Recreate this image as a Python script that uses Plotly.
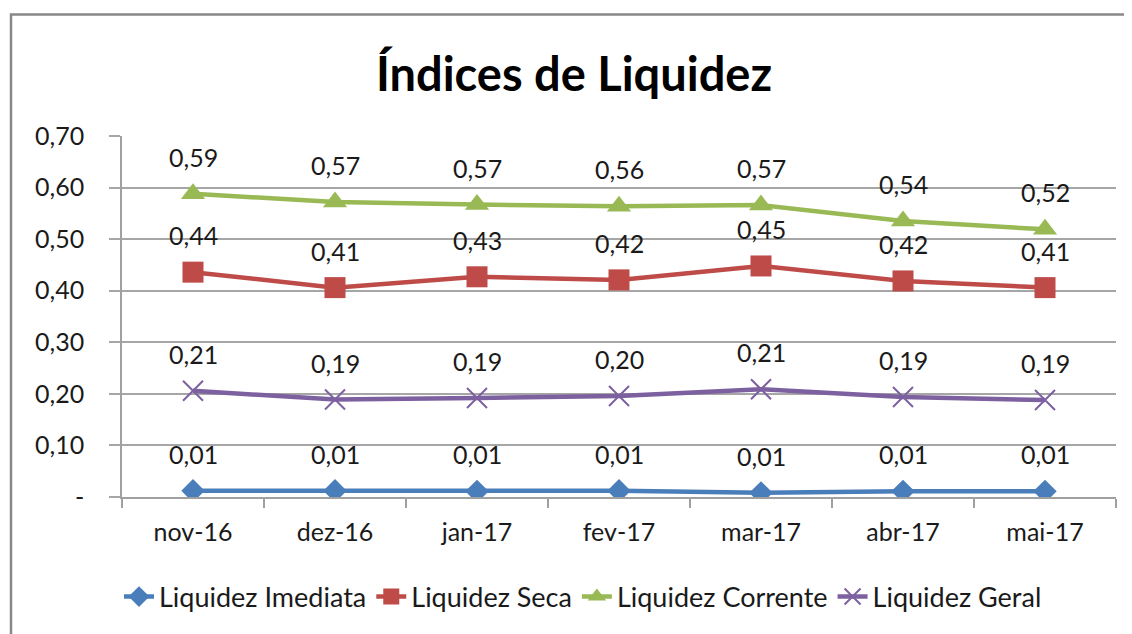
import plotly.graph_objects as go

categories = ["nov-16", "dez-16", "jan-17", "fev-17", "mar-17", "abr-17", "mai-17"]
imediata = [0.012, 0.012, 0.011, 0.012, 0.008, 0.011, 0.011]
seca = [0.436, 0.406, 0.427, 0.421, 0.448, 0.419, 0.406]
corrente = [0.588, 0.572, 0.567, 0.564, 0.566, 0.535, 0.519]
geral = [0.206, 0.189, 0.192, 0.196, 0.209, 0.194, 0.188]
y_ticks = [0, 0.1, 0.2, 0.3, 0.4, 0.5, 0.6, 0.7]
y_tick_labels = ["-", "0,10", "0,20", "0,30", "0,40", "0,50", "0,60", "0,70"]

series = [
    ("Liquidez Imediata", imediata, "#4A7EBB", dict(symbol="diamond", size=18)),
    ("Liquidez Seca", seca, "#BE4B48", dict(symbol="square", size=21)),
    ("Liquidez Corrente", corrente, "#98B954", dict(symbol="triangle-up", size=21)),
    ("Liquidez Geral", geral, "#7D60A0", dict(symbol="x-thin-open", size=20)),
]

FONT = "Lato, 'Open Sans', sans-serif"
TXT = "#1a1a1a"
fig = go.Figure()
annotations = []
for name, vals, color, marker in series:
    m = dict(marker)
    m["color"] = color
    if m["symbol"].startswith("x-thin"):
        m["line"] = dict(width=2, color=color)
    fig.add_trace(go.Scatter(
        x=categories, y=vals, name=name, mode="lines+markers",
        line=dict(color=color, width=4.5), marker=m,
    ))
    for c, v in zip(categories, vals):
        annotations.append(dict(
            x=c, y=v, xref="x", yref="y", text=f"{v:.2f}".replace(".", ","),
            showarrow=False, yshift=37, font=dict(size=25, color=TXT, family=FONT),
        ))

# page is rendered with an 8px body offset; compensate
OFF = 8
W, H = 1132, 634
l, r, t, b = 122 - OFF, W - (1116 - OFF), 136 - OFF, H - (497 - OFF)
pw, ph = W - l - r, H - t - b

def px_x(x):
    return (x - OFF - l) / pw

def px_y(y):
    return (H - b - (y - OFF)) / ph

fig.update_layout(
    width=W, height=H,
    margin=dict(l=l, r=r, t=t, b=b),
    paper_bgcolor="white", plot_bgcolor="white",
    font=dict(family=FONT, size=25, color=TXT),
    title=dict(text="<b>Índices de Liquidez</b>", x=0.5, xanchor="center",
               y=1 - (75 - OFF) / H, yanchor="middle", font=dict(size=47, family=FONT, color="black")),
    annotations=annotations,
    showlegend=True,
    legend=dict(orientation="h", x=px_x(583), xanchor="center",
                y=px_y(597), yanchor="middle", font=dict(size=27, family=FONT, color=TXT),
                tracegroupgap=0),
    shapes=[dict(type="rect", xref="paper", yref="paper",
                 x0=px_x(11), x1=px_x(1150), y0=px_y(660), y1=px_y(14.5),
                 line=dict(color="#888888", width=2.5), layer="above")],
)
fig.update_xaxes(
    type="category", showgrid=False, showline=True, linecolor="#A0A0A0", linewidth=1.5,
    ticks="outside", tickson="boundaries", ticklen=9, tickcolor="#A0A0A0", tickwidth=1.5,
    tickfont=dict(size=25), range=[-0.5, 6.5], ticklabelstandoff=12,
)
fig.update_yaxes(
    range=[0, 0.7], tickvals=y_ticks, ticktext=y_tick_labels,
    showgrid=True, gridcolor="#A6A6A6", gridwidth=1.5,
    showline=True, linecolor="#A0A0A0", linewidth=1.5,
    ticks="outside", ticklen=11, tickcolor="#A6A6A6", tickwidth=1.5,
    tickfont=dict(size=25), zeroline=False, ticklabelstandoff=20,
)
fig.write_html("out.html")
